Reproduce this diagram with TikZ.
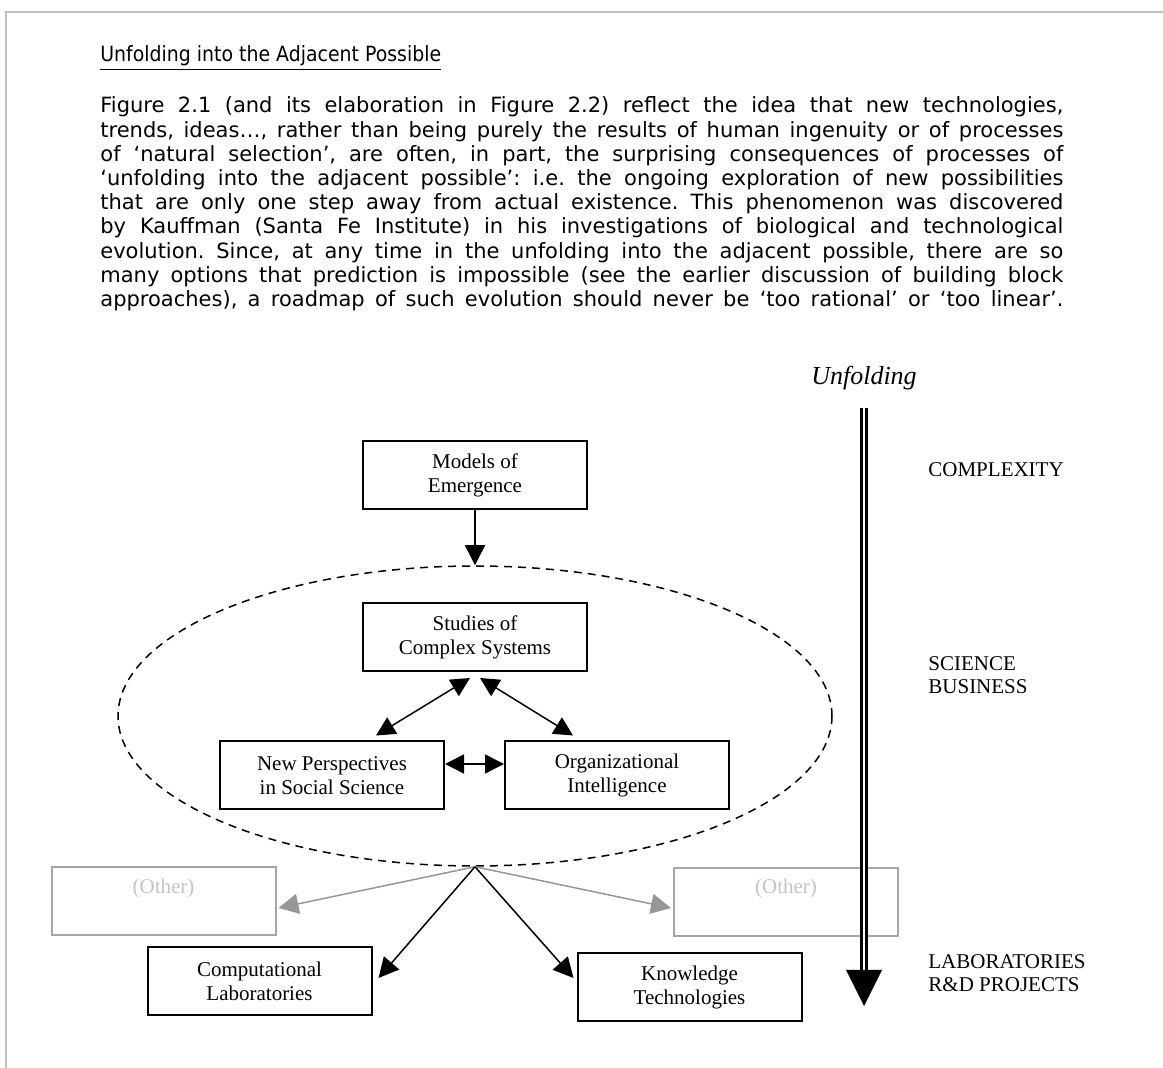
\documentclass[tikz,border=0pt]{standalone}
\usepackage{fontspec}
\setmainfont{DejaVu Sans}
\newfontfamily\headfont{DejaVu Sans}[FakeStretch=0.9]
\newfontfamily\tnr{Liberation Serif}
\usetikzlibrary{arrows.meta,shapes.geometric,calc}

\definecolor{framegray}{RGB}{192,192,192}
\definecolor{ghostline}{RGB}{165,165,165}
\definecolor{ghosttext}{RGB}{195,195,195}
\definecolor{ghostarrow}{RGB}{150,150,150}

\tikzset{
  box/.style={draw, line width=1pt, minimum width=112pt, minimum height=34pt,
    inner sep=0pt, align=center, font=\tnr\fontsize{10.5}{12}\selectfont},
  ghostbox/.style={box, draw=ghostline, text=ghosttext},
  link/.style={-{Triangle[length=10pt,width=10pt]}, line width=0.75pt},
  twoway/.style={{Triangle[length=9.5pt,width=9.5pt]}-{Triangle[length=9.5pt,width=9.5pt]}, line width=0.75pt},
  ghostlink/.style={link, draw=ghostarrow, fill=ghostarrow},
  sidelabel/.style={anchor=west, align=left, inner sep=0pt,
    font=\tnr\fontsize{10.5}{11.5}\selectfont},
}

\begin{document}
\begin{tikzpicture}[x=0.5pt,y=-0.5pt]
\useasboundingbox (0,0) rectangle (1163,1068);

% page frame
\draw[framegray, line width=1pt] (6,1068) -- (6,12) -- (1163,12);

% heading and body text
\node[anchor=base west, inner sep=0pt, font=\headfont\fontsize{10.5}{12.1}\selectfont]
  (heading) at (100,62) {\underline{Unfolding into the Adjacent Possible}};

\node[anchor=base west, inner sep=0pt] (body) at (100,113) {\parbox[t]{481.5pt}{%
\fontsize{10.5}{12.1}\selectfont\frenchspacing\parfillskip=0pt
Figure 2.1 (and its elaboration in Figure 2.2) reflect the idea that new technologies,\linebreak
trends, ideas…, rather than being purely the results of human ingenuity or of processes\linebreak
of ‘natural selection’, are often, in part, the surprising consequences of processes of\linebreak
‘unfolding into the adjacent possible’: i.e. the ongoing exploration of new possibilities\linebreak
that are only one step away from actual existence. This phenomenon was discovered\linebreak
by Kauffman (Santa Fe Institute) in his investigations of biological and technological\linebreak
evolution. Since, at any time in the unfolding into the adjacent possible, there are so\linebreak
many options that prediction is impossible (see the earlier discussion of building block\linebreak
approaches), a roadmap of such evolution should never be ‘too rational’ or ‘too linear’.}};

% the dashed field of science and business
\node[draw, dashed, dash pattern=on 4pt off 3pt, line width=0.75pt, ellipse,
  inner sep=0pt, minimum width=357pt, minimum height=150pt] (field) at (475,716) {};

% boxes
\node[box] (models)  at (475,475)   {Models of\\Emergence};
\node[box] (studies) at (475,637)   {Studies of\\Complex Systems};
\node[box] (nps)     at (332,775.5) {New Perspectives\\in Social Science};
\node[box] (oi)      at (617,775.5) {Organizational\\Intelligence};
\node[ghostbox] (otherL) at (163.5,901.5) {(Other)\\\strut};
\node[ghostbox] (otherR) at (786,902)     {(Other)\\\strut};
\node[box] (comp)    at (259.5,981)  {Computational\\Laboratories};
\node[box] (know)    at (689.5,987.5) {Knowledge\\Technologies};

\coordinate (hub) at (field.south);

% connectors
\draw[link] (models.south) -- (field.north);
\draw[twoway] ($(studies.south)+(-5,6)$) -- ($(nps.north)+(44,-5)$);
\draw[twoway] ($(studies.south)+(5,6)$) -- ($(oi.north)+(-44,-5)$);
\draw[twoway] ($(nps.east)+(0,-11.5)$) -- ($(oi.west)+(0,-11.5)$);
\draw[ghostlink] (hub) -- ($(otherL.east)+(2,6.5)$);
\draw[ghostlink] (hub) -- ($(otherR.west)+(-2,6)$);
\draw[link] (hub) -- ($(comp.east)+(6,-3)$);
\draw[link] (hub) -- ($(know.west)+(-3,-9.5)$);

% unfolding arrow
\node[font=\tnr\itshape\fontsize{13}{15}\selectfont, anchor=base, inner sep=0pt]
  (unfold) at (864,385) {Unfolding};
\coordinate (utop) at (864,408);
\coordinate (utip) at (864,1006);
\draw[line width=1.2pt, double, double distance=1.2pt] (utop) -- ($(utip)+(0,-34)$);
\fill (utip) -- ++(-18,-36) -- ++(36,0) -- cycle;

% level labels
\node[sidelabel] (lcomplex) at (928,470) {COMPLEXITY};
\node[sidelabel] (lscience) at (928,675) {SCIENCE\\BUSINESS};
\node[sidelabel] (llabs)    at (928,973.5) {LABORATORIES\\R\&D PROJECTS};
\end{tikzpicture}
\end{document}
